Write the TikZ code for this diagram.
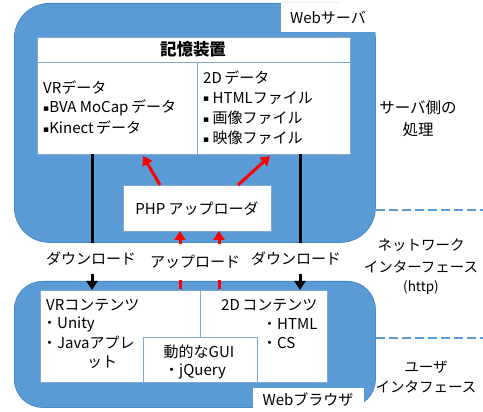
\documentclass[tikz,border=0pt]{standalone}
\usepackage{fontspec}
\setmainfont{Noto Sans CJK JP}
\newfontfamily\symf{DejaVu Sans}
\usetikzlibrary{arrows.meta}
\definecolor{bl}{HTML}{5B9BD5}
\definecolor{bldark}{HTML}{4A87C8}
\definecolor{bxline}{HTML}{7FA7CF}
\definecolor{rd}{HTML}{FF0000}
\newcommand{\sqb}{\raisebox{1.5pt}{\symf\fontsize{9}{9}\selectfont ▪}}
\begin{document}
\begin{tikzpicture}[x=1pt,y=-1pt,
  bluebox/.style={draw=bldark, line width=0.8pt, fill=bl, inner sep=0pt, anchor=north west},
  whitebox/.style={draw=bxline, line width=0.7pt, fill=white, inner sep=0pt, anchor=north west},
  wlabel/.style={fill=white, inner sep=0pt, anchor=north west},
  txt/.style={inner sep=0pt, font=\fontsize{15}{19}\selectfont},
  gap/.style={fill=white, inner sep=0pt, minimum height=31pt, font=\fontsize{15}{19}\selectfont},
  dlarrow/.style={line width=3pt, black, -{Triangle[length=9pt,width=11pt]}},
  ularrow/.style={line width=3pt, rd, -{Triangle[length=9pt,width=11pt]}},
  uldashed/.style={ularrow, dash pattern=on 9pt off 6pt},
  sepline/.style={bl, line width=2.2pt, dash pattern=on 9pt off 4pt}]
\useasboundingbox (0,0) rectangle (483,412);
\fill[white] (0,0) rectangle (483,412);

% server
\node[bluebox, rounded corners=35pt, minimum width=361pt, minimum height=239pt] (server) at (14,3) {};
\node[wlabel, minimum width=95pt, minimum height=29pt] (wslbl) at (281,3) {};
\node[txt] (wstxt) at (328,18) {Webサーバ};

% storage
\node[whitebox, minimum width=313pt, minimum height=117pt] (storage) at (37,37) {};
\coordinate (stl) at (37,62);
\coordinate (str) at (350,62);
\coordinate (stdt) at (197,62);
\coordinate (stdb) at (197,154);
\draw[bxline, line width=0.7pt] (stl) -- (str);
\draw[bxline, line width=0.7pt] (stdt) -- (stdb);
\node[txt, font=\fontsize{16.5}{19}\bfseries] (sttitle) at (193,49) {記憶装置};
\node[txt, anchor=west] (vrd) at (43,88) {VRデータ};
\node[txt, anchor=west] (vrd1) at (43,108) {\sqb BVA MoCap\,データ};
\node[txt, anchor=west] (vrd2) at (43,128) {\sqb Kinect\,データ};
\node[txt, anchor=west] (tdd) at (203,78) {2D\,データ};
\node[txt, anchor=west] (tdd1) at (203,98) {\sqb\ HTMLファイル};
\node[txt, anchor=west] (tdd2) at (203,118) {\sqb\ 画像ファイル};
\node[txt, anchor=west] (tdd3) at (203,138) {\sqb\ 映像ファイル};

% php
\node[whitebox, minimum width=148pt, minimum height=46pt] (php) at (123,185) {};
\node[txt] (phptxt) at (197,209) {PHP アップローダ};

% browser
\node[bluebox, rounded corners=28pt, minimum width=361pt, minimum height=126pt] (browser) at (14,281) {};
\node[wlabel, minimum width=111pt, minimum height=25pt] (wblbl) at (253,388) {};
\node[txt] (wbtxt) at (308,400) {Webブラウザ};

\node[whitebox, minimum width=160pt, minimum height=92pt] (vrc) at (40,290) {};
\node[whitebox, minimum width=127pt, minimum height=92pt] (tdc) at (200,290) {};
\node[whitebox, minimum width=114pt, minimum height=45pt] (gui) at (143,337) {};

\node[txt, anchor=west] (vrct) at (46,305) {VRコンテンツ};
\node[txt, anchor=west] (vrc1) at (42,324) {・Unity};
\node[txt, anchor=west] (vrc2) at (42,343) {・Javaアプレ};
\node[txt, anchor=west] (vrc3) at (87,362) {ット};
\node[txt] (guit) at (199,352) {動的なGUI};
\node[txt, anchor=west] (gui1) at (164,372) {・jQuery};
\node[txt, anchor=west] (tdct) at (221,305) {2D\,コンテンツ};
\node[txt, anchor=west] (tdc1) at (262,324) {・HTML};
\node[txt, anchor=west] (tdc2) at (262,343) {・CS};

% connectors
\coordinate (dlLt) at (92,154);
\coordinate (dlLb) at (92,290);
\coordinate (dlRt) at (300,154);
\coordinate (dlRb) at (300,290);
\draw[dlarrow] (dlLt) -- (dlLb);
\draw[dlarrow] (dlRt) -- (dlRb);
\node[gap] (dlLlbl) at (91,259) {ダウンロード};
\node[gap] (dlRlbl) at (296,259) {ダウンロード};

\coordinate (ulLb) at (180,289);
\coordinate (ulLt) at (180,231);
\coordinate (ulRb) at (219,289);
\coordinate (ulRt) at (219,231);
\draw[uldashed] (ulLb) -- (ulLt);
\draw[uldashed] (ulRb) -- (ulRt);
\node[gap, minimum height=27pt] (ullbl) at (195,262) {アップロード};

\coordinate (uaLs) at (160,185);
\coordinate (uaLe) at (143,156);
\coordinate (uaRs) at (238,185);
\coordinate (uaRe) at (270,156);
\draw[ularrow] (uaLs) -- (uaLe);
\draw[ularrow] (uaRs) -- (uaRe);

% separators
\coordinate (sp1a) at (376,210);
\coordinate (sp1b) at (483,210);
\coordinate (sp2a) at (376,338);
\coordinate (sp2b) at (483,338);
\draw[sepline] (sp1a) -- (sp1b);
\draw[sepline] (sp2a) -- (sp2b);

% side labels
\node[txt, align=center, font=\fontsize{15.5}{22}\selectfont] (srvside) at (418,119) {サーバ側の\\処理};
\node[txt, align=center, font=\fontsize{14.5}{22}\selectfont] (netif) at (421,256) {ネットワーク\\インターフェース};
\node[txt, font=\fontsize{13.5}{15}\selectfont] (http) at (421,288) {(http)};
\node[txt, align=center, font=\fontsize{14.5}{20}\selectfont] (usrif) at (426,377) {ユーザ\\インタフェース};
\end{tikzpicture}
\end{document}
